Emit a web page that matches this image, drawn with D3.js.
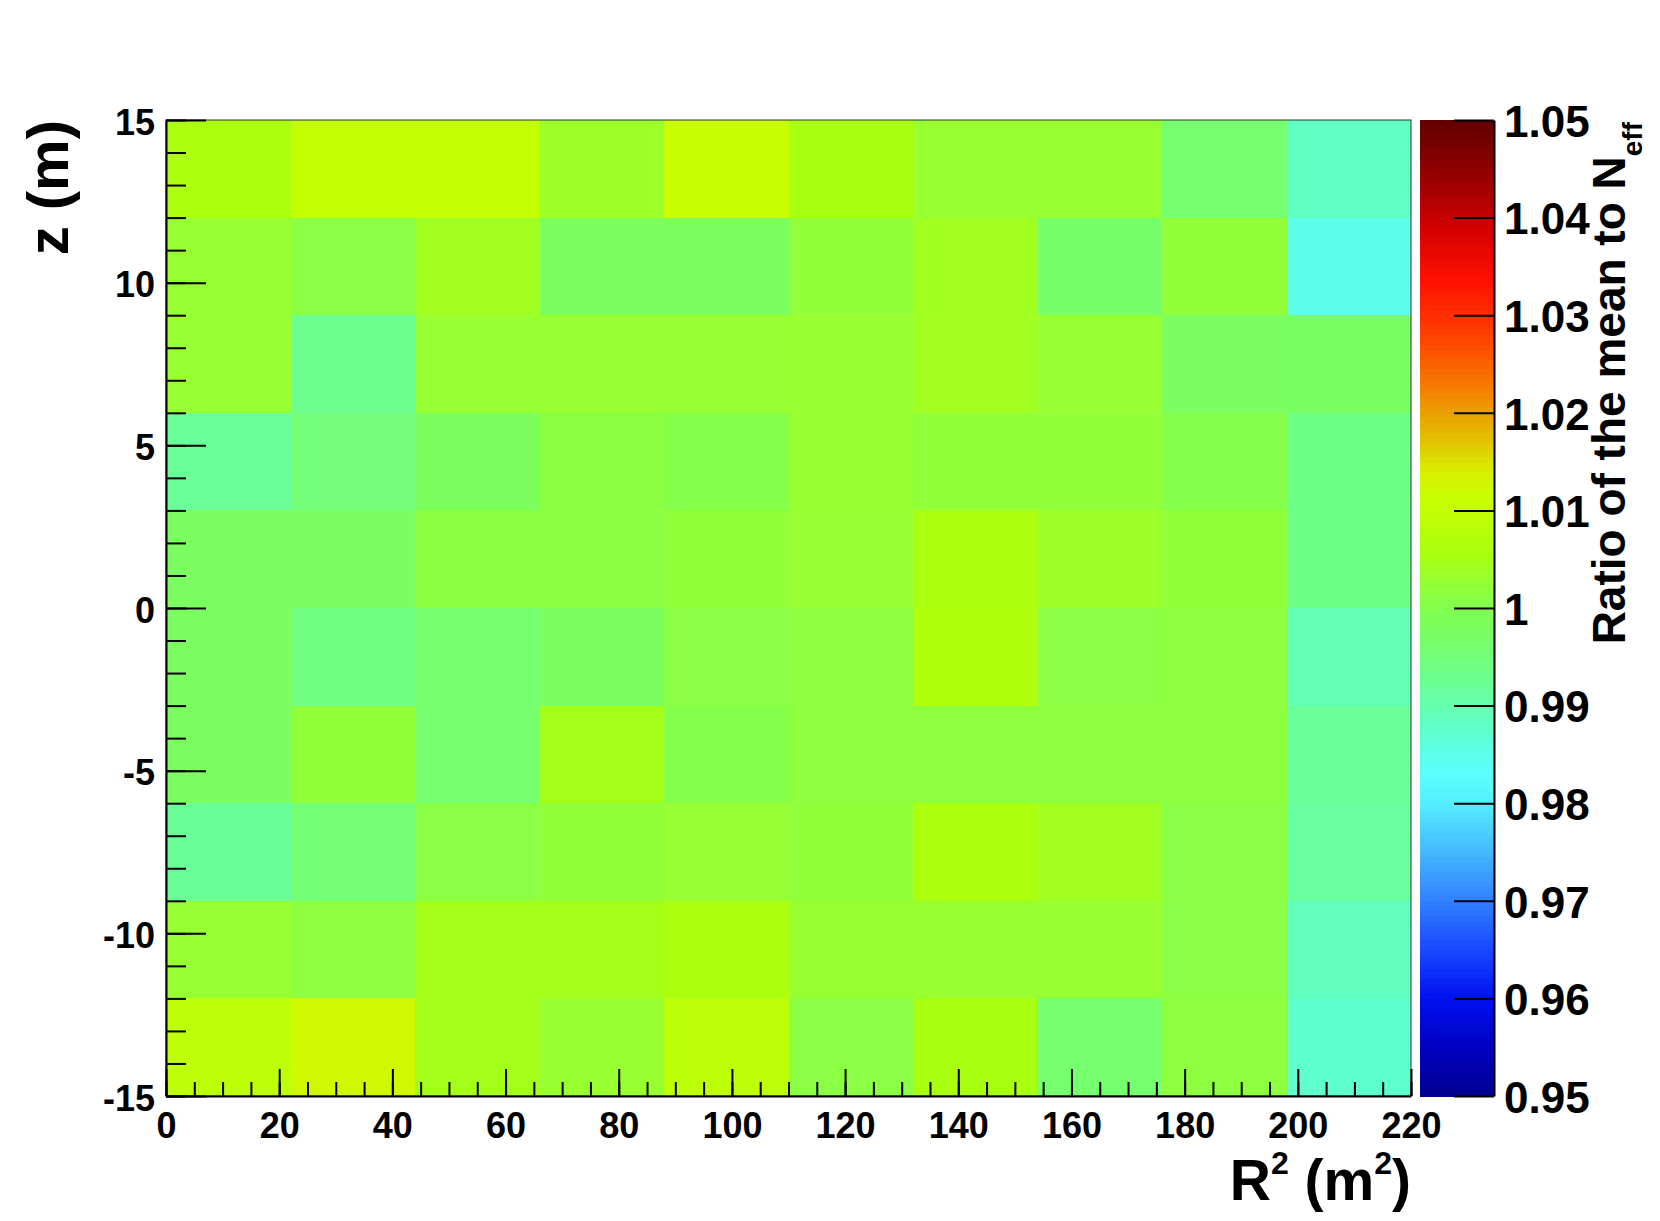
<!DOCTYPE html>
<meta charset="utf-8">
<style>
body { margin: 0; background: #fff; }
text { font-family: "Liberation Sans", Arial, Helvetica, sans-serif; font-weight: bold; fill: #000; }
.axis path, .axis line { stroke: #000; stroke-width: 2px; }
</style>
<body>
<script src="https://d3js.org/d3.v7.min.js"></script>
<script>

// bin edges
var rEdges = [0, 22, 44, 66, 88, 110, 132, 154, 176, 198, 220];
var zEdges = [-15, -12, -9, -6, -3, 0, 3, 6, 9, 12, 15];

// ratio of the mean to N_eff, one row per z bin (bottom row first), one value per R^2 bin
var ratio = [
  [1.0090, 1.0125, 1.0048, 1.0030, 1.0090, 1.0011, 1.0054, 0.9963, 1.0016, 0.9875],
  [1.0028, 1.0016, 1.0048, 1.0048, 1.0061, 1.0030, 1.0030, 1.0030, 1.0011, 0.9888],
  [0.9922, 0.9954, 1.0011, 1.0021, 1.0027, 1.0021, 1.0061, 1.0042, 1.0011, 0.9914],
  [0.9979, 1.0021, 0.9963, 1.0048, 1.0004, 1.0016, 1.0016, 1.0016, 1.0016, 0.9921],
  [0.9979, 0.9942, 0.9963, 0.9982, 1.0011, 1.0016, 1.0068, 1.0011, 1.0016, 0.9896],
  [0.9979, 0.9979, 1.0013, 1.0013, 1.0021, 1.0028, 1.0061, 1.0036, 1.0021, 0.9934],
  [0.9921, 0.9951, 0.9984, 1.0013, 1.0005, 1.0030, 1.0021, 1.0021, 1.0004, 0.9935],
  [1.0028, 0.9928, 1.0028, 1.0028, 1.0028, 1.0030, 1.0042, 1.0028, 0.9979, 0.9977],
  [1.0028, 1.0011, 1.0042, 0.9984, 0.9984, 1.0021, 1.0042, 0.9968, 1.0021, 0.9850],
  [1.0061, 1.0102, 1.0102, 1.0036, 1.0111, 1.0054, 1.0030, 1.0030, 0.9963, 0.9882]
];

var xTicks = [0, 20, 40, 60, 80, 100, 120, 140, 160, 180, 200, 220];
var yTicks = [-15, -10, -5, 0, 5, 10, 15];
var yTickLabels = ["-15", "-10", "-5", "0", "5", "10", "15"];
var cTicks = [0.95, 0.96, 0.97, 0.98, 0.99, 1, 1.01, 1.02, 1.03, 1.04, 1.05];
var cTickLabels = ["0.95", "0.96", "0.97", "0.98", "0.99", "1", "1.01", "1.02", "1.03", "1.04", "1.05"];

// palette
var paletteStops = [0.950, 0.955, 0.960, 0.965, 0.970, 0.975, 0.980, 0.983, 0.986, 0.9885,
                    0.9942, 0.9998, 1.003, 1.0054, 1.0111, 1.014, 1.0167, 1.020, 1.0223,
                    1.028, 1.0336, 1.0392, 1.0449, 1.050];
var paletteColors = ["#000090", "#0000c0", "#0010f0", "#1848ff", "#3080ff", "#44b8ff", "#54eeff",
                     "#5cffff", "#5effe0", "#60ffc0", "#70ff80", "#80ff50", "#98ff30", "#a8ff10",
                     "#c8ff00", "#d8f000", "#e0c800", "#eaa000", "#f58000", "#ff4000", "#ff1000",
                     "#d00000", "#900000", "#600000"];

var W = 1660, H = 1221;
var plot = {left: 166, right: 1411, top: 120, bottom: 1096};
var bar = {left: 1420, right: 1494};

var x = d3.scaleLinear().domain([0, 220]).range([plot.left, plot.right]);
var y = d3.scaleLinear().domain([-15, 15]).range([plot.bottom, plot.top]);
var cy = d3.scaleLinear().domain([0.95, 1.05]).range([plot.bottom, plot.top]);
var color = d3.scaleLinear().domain(paletteStops).range(paletteColors).clamp(true);

var svg = d3.select("body").append("svg")
    .attr("width", W)
    .attr("height", H);

// cells
var cells = [];
ratio.forEach(function(row, j) {
  row.forEach(function(v, i) { cells.push({i: i, j: j, v: v}); });
});

svg.append("g")
  .selectAll("rect")
  .data(cells)
  .enter().append("rect")
    .attr("x", function(d) { return x(rEdges[d.i]); })
    .attr("y", function(d) { return y(zEdges[d.j + 1]); })
    .attr("width", function(d) { return x(rEdges[d.i + 1]) - x(rEdges[d.i]); })
    .attr("height", function(d) { return y(zEdges[d.j]) - y(zEdges[d.j + 1]); })
    .attr("fill", function(d) { return color(d.v); })
    .attr("shape-rendering", "crispEdges");

// thin frame on top and right
svg.append("rect")
    .attr("x", plot.left).attr("y", plot.top)
    .attr("width", plot.right - plot.left).attr("height", plot.bottom - plot.top)
    .attr("fill", "none").attr("stroke", "#333").attr("stroke-width", 1);

// minor ticks
svg.append("g")
    .attr("class", "axis")
    .attr("transform", "translate(" + plot.left + ",0)")
    .call(d3.axisLeft(y).tickValues(d3.range(-15, 16, 1)).tickSizeInner(-20).tickSizeOuter(0).tickFormat(""))
    .select(".domain").remove();
svg.append("g")
    .attr("class", "axis")
    .attr("transform", "translate(0," + plot.bottom + ")")
    .call(d3.axisBottom(x).tickValues(d3.range(0, 221, 5)).tickSizeInner(-14).tickSizeOuter(0).tickFormat(""))
    .select(".domain").remove();

// major axes
var yAxis = svg.append("g")
    .attr("class", "axis")
    .attr("transform", "translate(" + plot.left + ",0)")
    .call(d3.axisLeft(y).tickValues(yTicks).tickSizeInner(-40).tickSizeOuter(0).tickPadding(11)
      .tickFormat(function(d, i) { return yTickLabels[i]; }));
yAxis.selectAll("text").attr("font-size", 36).attr("dy", "0.39em");

var xAxis = svg.append("g")
    .attr("class", "axis")
    .attr("transform", "translate(0," + plot.bottom + ")")
    .call(d3.axisBottom(x).tickValues(xTicks).tickSizeInner(-27).tickSizeOuter(0).tickPadding(16));
xAxis.selectAll("text").attr("font-size", 36);

svg.selectAll(".axis text").attr("fill", "#000").attr("font-family", null);

// colour bar
var nBands = 200;
var bands = d3.range(nBands).map(function(k) {
  return {lo: 0.95 + k * 0.1 / nBands, hi: 0.95 + (k + 1) * 0.1 / nBands};
});
svg.append("g")
  .selectAll("rect")
  .data(bands)
  .enter().append("rect")
    .attr("x", bar.left)
    .attr("y", function(d) { return cy(d.hi); })
    .attr("width", bar.right - bar.left)
    .attr("height", function(d) { return cy(d.lo) - cy(d.hi) + 0.5; })
    .attr("fill", function(d) { return color((d.lo + d.hi) / 2); })
    .attr("shape-rendering", "crispEdges");

var cAxis = svg.append("g")
    .attr("class", "axis")
    .attr("transform", "translate(" + bar.right + ",0)")
    .call(d3.axisRight(cy).tickValues(cTicks).tickSizeInner(-40).tickSizeOuter(0).tickPadding(10)
      .tickFormat(function(d, i) { return cTickLabels[i]; }));
cAxis.selectAll("text").attr("font-size", 44).attr("dy", "0.37em").attr("fill", "#000");

// x title
var xt = svg.append("text")
    .attr("x", plot.right)
    .attr("y", 1200)
    .attr("text-anchor", "end")
    .attr("font-size", 57);
xt.append("tspan").text("R");
xt.append("tspan").attr("font-size", 32).attr("dy", -26).text("2");
xt.append("tspan").attr("dy", 26).text(" (m");
xt.append("tspan").attr("font-size", 32).attr("dy", -26).text("2");
xt.append("tspan").attr("dy", 26).text(")");

// y title
svg.append("text")
    .attr("transform", "translate(68," + plot.top + ") rotate(-90)")
    .attr("text-anchor", "end")
    .attr("font-size", 58)
    .text("z (m)");

// colour bar title
var ct = svg.append("text")
    .attr("transform", "translate(1625," + (plot.top + 2) + ") rotate(-90)")
    .attr("text-anchor", "end")
    .attr("font-size", 46);
ct.append("tspan").text("Ratio of the mean to N");
ct.append("tspan").attr("font-size", 28).attr("dy", 17).text("eff");

</script>
</body>
